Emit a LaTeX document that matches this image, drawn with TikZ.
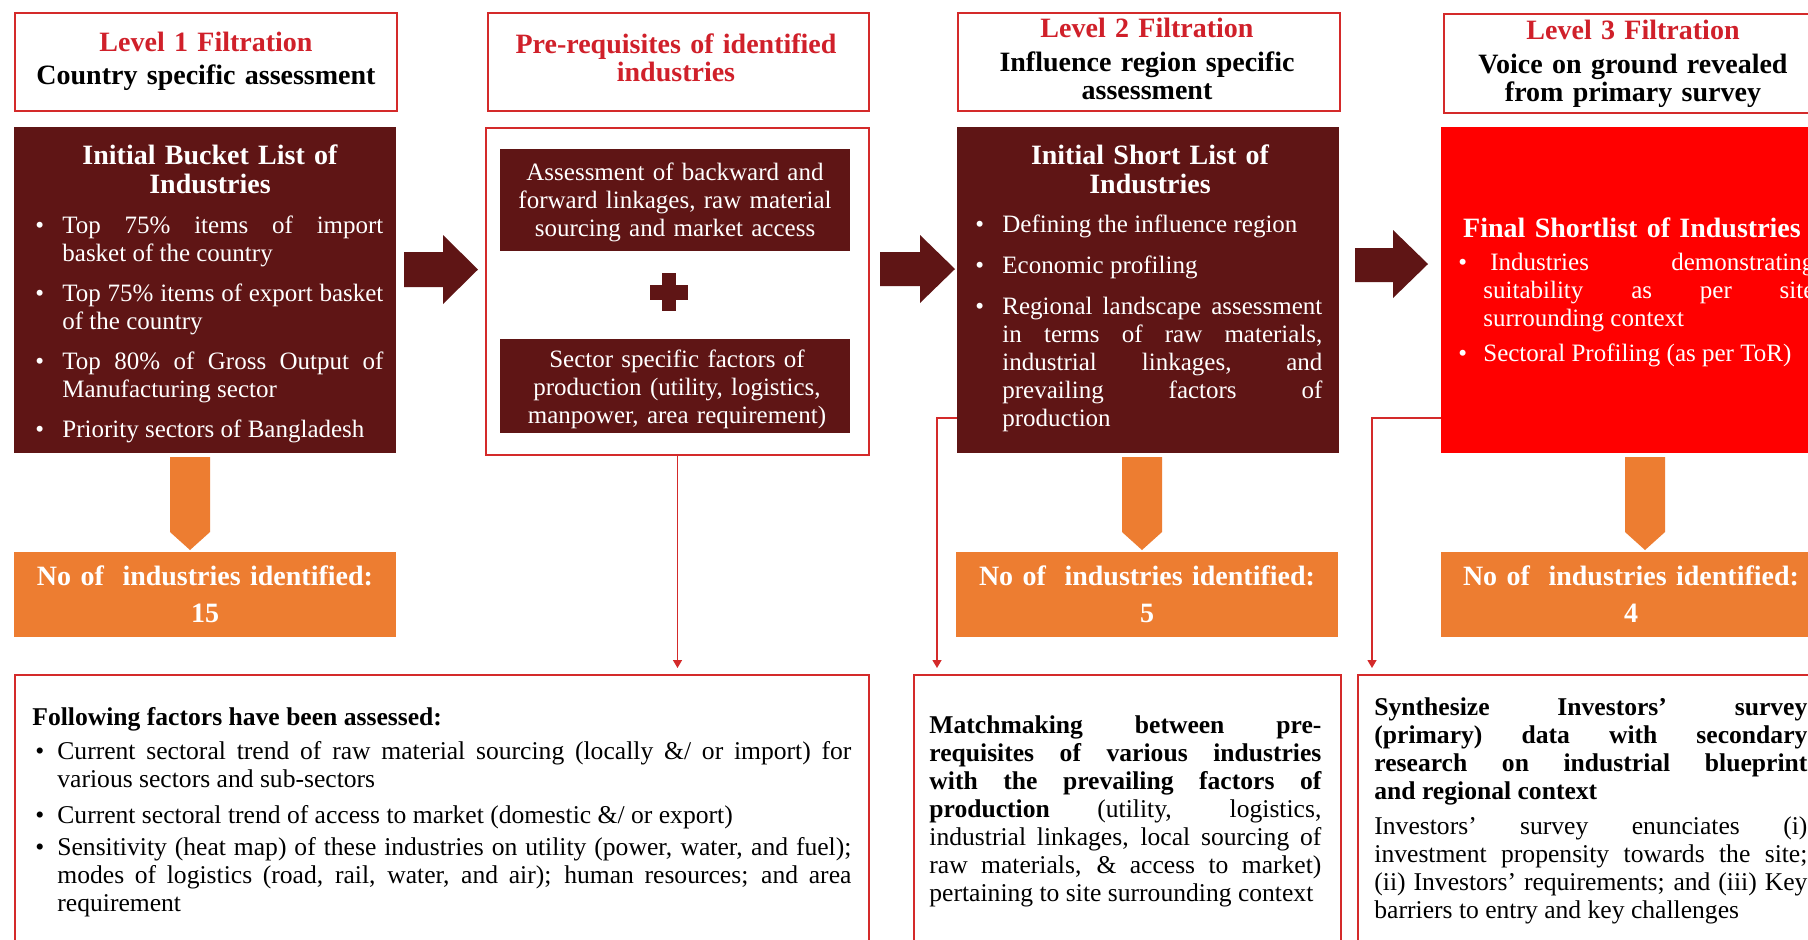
\documentclass[tikz,border=0pt]{standalone}
\usepackage{fontspec}
\setmainfont{Liberation Serif}
\usetikzlibrary{arrows.meta}

\definecolor{maroon}{HTML}{5F1515}
\definecolor{hdred}{HTML}{D0202A}
\definecolor{edgered}{HTML}{D42A2A}
\definecolor{hotred}{HTML}{FF0000}
\definecolor{amber}{HTML}{ED7D31}

% bullet paragraph: #1 = hanging indent, #2 = text
\newcommand{\bitem}[2]{\leavevmode\hangindent=#1\relax\makebox[#1][l]{\textbullet}\ignorespaces#2\par}
\newcommand{\bodyfont}{\fontsize{12.5pt}{14pt}\selectfont}
\newcommand{\detailfont}{\fontsize{12.8pt}{14pt}\selectfont}
\newcommand{\headfont}{\fontsize{14pt}{14pt}\selectfont\bfseries}

\tikzset{
  frame/.style={draw=edgered, line width=1pt, inner sep=0pt, anchor=north west},
  solid box/.style={fill=#1, inner sep=0pt, anchor=north west},
  headtext/.style={anchor=base, inner sep=0pt, text width=185pt, align=center, font=\headfont},
  boxtitle/.style={anchor=base, inner sep=0pt, text width=185pt, align=center, text=white,
                   font=\fontsize{14pt}{14.5pt}\selectfont\bfseries},
  boxtext/.style={anchor=base, inner sep=0pt, text width=180pt, align=center, text=white, font=\bodyfont},
  bulletlist/.style={anchor=base west, inner sep=0pt, align=justify, font=\bodyfont},
  numtext/.style={anchor=base, inner sep=0pt, text width=185pt, align=center, text=white, font=\headfont},
  link/.style={draw=edgered, line width=0.7pt, -{Triangle[length=4pt,width=4.5pt]}, shorten >=3pt},
}

\begin{document}
\begin{tikzpicture}[x=0.5pt, y=-0.5pt]
\useasboundingbox (0,0) rectangle (1808,939);
\fill[white] (0,0) rectangle (1808,939);
\clip (0,0) rectangle (1808,939);

% ---------- header boxes ----------
\node[frame, minimum width=191pt, minimum height=49pt] (hdr1) at (14,12) {};
\node[frame, minimum width=190.5pt, minimum height=49pt] (hdr2) at (487,12) {};
\node[frame, minimum width=191pt, minimum height=49pt] (hdr3) at (957,12) {};
\node[frame, minimum width=190pt, minimum height=49.5pt] (hdr4) at (1443,13) {};

\node[headtext, text=hdred] (hdr1t) at (206,51)
  {Level 1 Filtration\\[2.5pt]\color{black}Country specific assessment};
\node[headtext, text=hdred] (hdr2t) at (676,53)
  {Pre-requisites of identified\\industries};
\node[headtext, text=hdred] (hdr3t) at (1147,37)
  {Level 2 Filtration\\[3pt]\color{black}Influence region specific\\assessment};
\node[headtext, text=hdred] (hdr4t) at (1633,39)
  {Level 3 Filtration\\[3pt]\color{black}Voice on ground revealed\\from primary survey};

% ---------- main boxes ----------
\node[solid box=maroon, minimum width=191pt, minimum height=163pt] (body1) at (14,127) {};
\node[frame, minimum width=191.5pt, minimum height=163.5pt] (body2) at (485,127) {};
\node[solid box=maroon, minimum width=175pt, minimum height=51pt] (linkbox) at (500,149) {};
\node[solid box=maroon, minimum width=175pt, minimum height=47pt] (factorbox) at (500,339) {};
\node[solid box=maroon, minimum width=191pt, minimum height=163pt] (body3) at (957,127) {};
\node[solid box=hotred, minimum width=191pt, minimum height=163pt] (body4) at (1441,127) {};

% plus sign between the two pre-requisite blocks
\coordinate (plus) at (669,292);
\fill[maroon] (650,285) rectangle (688,300);
\fill[maroon] (662,273) rectangle (676,311);

% level 1 contents
\node[boxtitle] (body1t) at (210,164) {Initial Bucket List of\\Industries};
\node[bulletlist, text=white, text width=174pt] (body1l) at (35,233) {%
  \bitem{13.5pt}{Top 75\% items of import\linebreak basket of the country}\vspace{6pt}%
  \bitem{13.5pt}{Top 75\% items of export basket\linebreak of the country}\vspace{6pt}%
  \bitem{13.5pt}{Top 80\% of Gross Output of\linebreak Manufacturing sector}\vspace{6pt}%
  \bitem{13.5pt}{Priority sectors of Bangladesh}};

% pre-requisite contents
\node[boxtext] (linkt) at (675,180)
  {Assessment of backward and\\forward linkages, raw material\\sourcing and market access};
\node[boxtext] (factort) at (677,367)
  {Sector specific factors of\\production (utility, logistics,\\manpower, area requirement)};

% level 2 contents
\node[boxtitle] (body3t) at (1150,164) {Initial Short List of\\Industries};
\node[bulletlist, text=white, text width=173.5pt] (body3l) at (975,232) {%
  \bitem{13.5pt}{Defining the influence region}\vspace{6.5pt}%
  \bitem{13.5pt}{Economic profiling}\vspace{6.5pt}%
  \bitem{13.5pt}{Regional landscape assessment\linebreak in terms of raw materials,\linebreak
    industrial linkages, and\linebreak prevailing factors of\linebreak production}};

% level 3 contents
\node[boxtitle] (body4t) at (1632,237) {Final Shortlist of Industries};
\node[bulletlist, text=white, text width=178pt] (body4l) at (1458,270) {%
  \bitem{12.5pt}{\hspace{3.5pt}Industries demonstrating\linebreak suitability as per site\linebreak surrounding context}\vspace{3.5pt}%
  \bitem{12.5pt}{Sectoral Profiling (as per ToR)}};

% ---------- block arrows between stages ----------
\fill[maroon] (404,252) -- (443,252) -- (443,235) -- (478,269.5) -- (443,304) -- (443,287) -- (404,287) -- cycle;
\fill[maroon] (880,252) -- (920,252) -- (920,235) -- (955,269) -- (920,303) -- (920,286) -- (880,286) -- cycle;
\fill[maroon] (1355,248) -- (1393,248) -- (1393,230) -- (1428,264) -- (1393,298) -- (1393,282) -- (1355,282) -- cycle;

% ---------- counts ----------
\fill[amber] (170,457) -- (210,457) -- (210,532) -- (190,550) -- (170,532) -- cycle;
\fill[amber] (1122,457) -- (1162,457) -- (1162,532) -- (1142,550) -- (1122,532) -- cycle;
\fill[amber] (1625,457) -- (1665,457) -- (1665,532) -- (1645,550) -- (1625,532) -- cycle;

\node[solid box=amber, minimum width=191pt, minimum height=42.5pt] (num1) at (14,552) {};
\node[solid box=amber, minimum width=191pt, minimum height=42.5pt] (num2) at (956,552) {};
\node[solid box=amber, minimum width=190.5pt, minimum height=42.5pt] (num3) at (1441,552) {};

\node[numtext] (num1t) at (205,585) {No of\ \ industries identified:\\[4.5pt]15};
\node[numtext] (num2t) at (1147,585) {No of\ \ industries identified:\\[4.5pt]5};
\node[numtext] (num3t) at (1631,585) {No of\ \ industries identified:\\[4.5pt]4};

% ---------- detail boxes ----------
\node[frame, minimum width=427pt, minimum height=160pt] (bot1) at (14,674) {};
\node[frame, minimum width=213.5pt, minimum height=160pt] (bot2) at (913,674) {};
\node[frame, minimum width=250pt, minimum height=160pt] (bot3) at (1357,674) {};

\node[bulletlist, text width=409.5pt, font=\detailfont] (bot1t) at (32,725) {%
  {\bfseries Following factors have been assessed:}\par\vspace{3pt}%
  \leftskip=1.5pt
  \bitem{11pt}{Current sectoral trend of raw material sourcing (locally \&/ or import) for\linebreak
    various sectors and sub-sectors}\vspace{4pt}%
  \bitem{11pt}{Current sectoral trend of access to market (domestic \&/ or export)}\vspace{2pt}%
  \bitem{11pt}{Sensitivity (heat map) of these industries on utility (power, water, and fuel);\linebreak
    modes of logistics (road, rail, water, and air); human resources; and area\linebreak requirement}};

\node[bulletlist, text width=196pt, font=\detailfont] (bot2t) at (929,733) {%
  {\bfseries Matchmaking between pre-\linebreak requisites of various industries\linebreak
  with the prevailing factors of\linebreak production} (utility, logistics,\linebreak
  industrial linkages, local sourcing of\linebreak raw materials, \& access to market)\linebreak
  pertaining to site surrounding context};

\node[bulletlist, text width=216.5pt, font=\detailfont] (bot3t) at (1374,715) {%
  {\bfseries Synthesize Investors’ survey\linebreak (primary) data with secondary\linebreak
  research on industrial blueprint\linebreak and regional context}\par\vspace{3.5pt}%
  Investors’ survey enunciates (i)\linebreak investment propensity towards the site;\linebreak
  (ii) Investors’ requirements; and (iii) Key\linebreak barriers to entry and key challenges};

% ---------- connectors to the detail boxes ----------
\draw[link] (body2.south) -- (body2.south |- bot1.north);
\coordinate (turn2) at (937,418);
\draw[link] (turn2 -| body3.west) -- (turn2) -- (turn2 |- bot2.north);
\coordinate (turn3) at (1372,418);
\draw[link] (turn3 -| body4.west) -- (turn3) -- (turn3 |- bot3.north);
\end{tikzpicture}
\end{document}
